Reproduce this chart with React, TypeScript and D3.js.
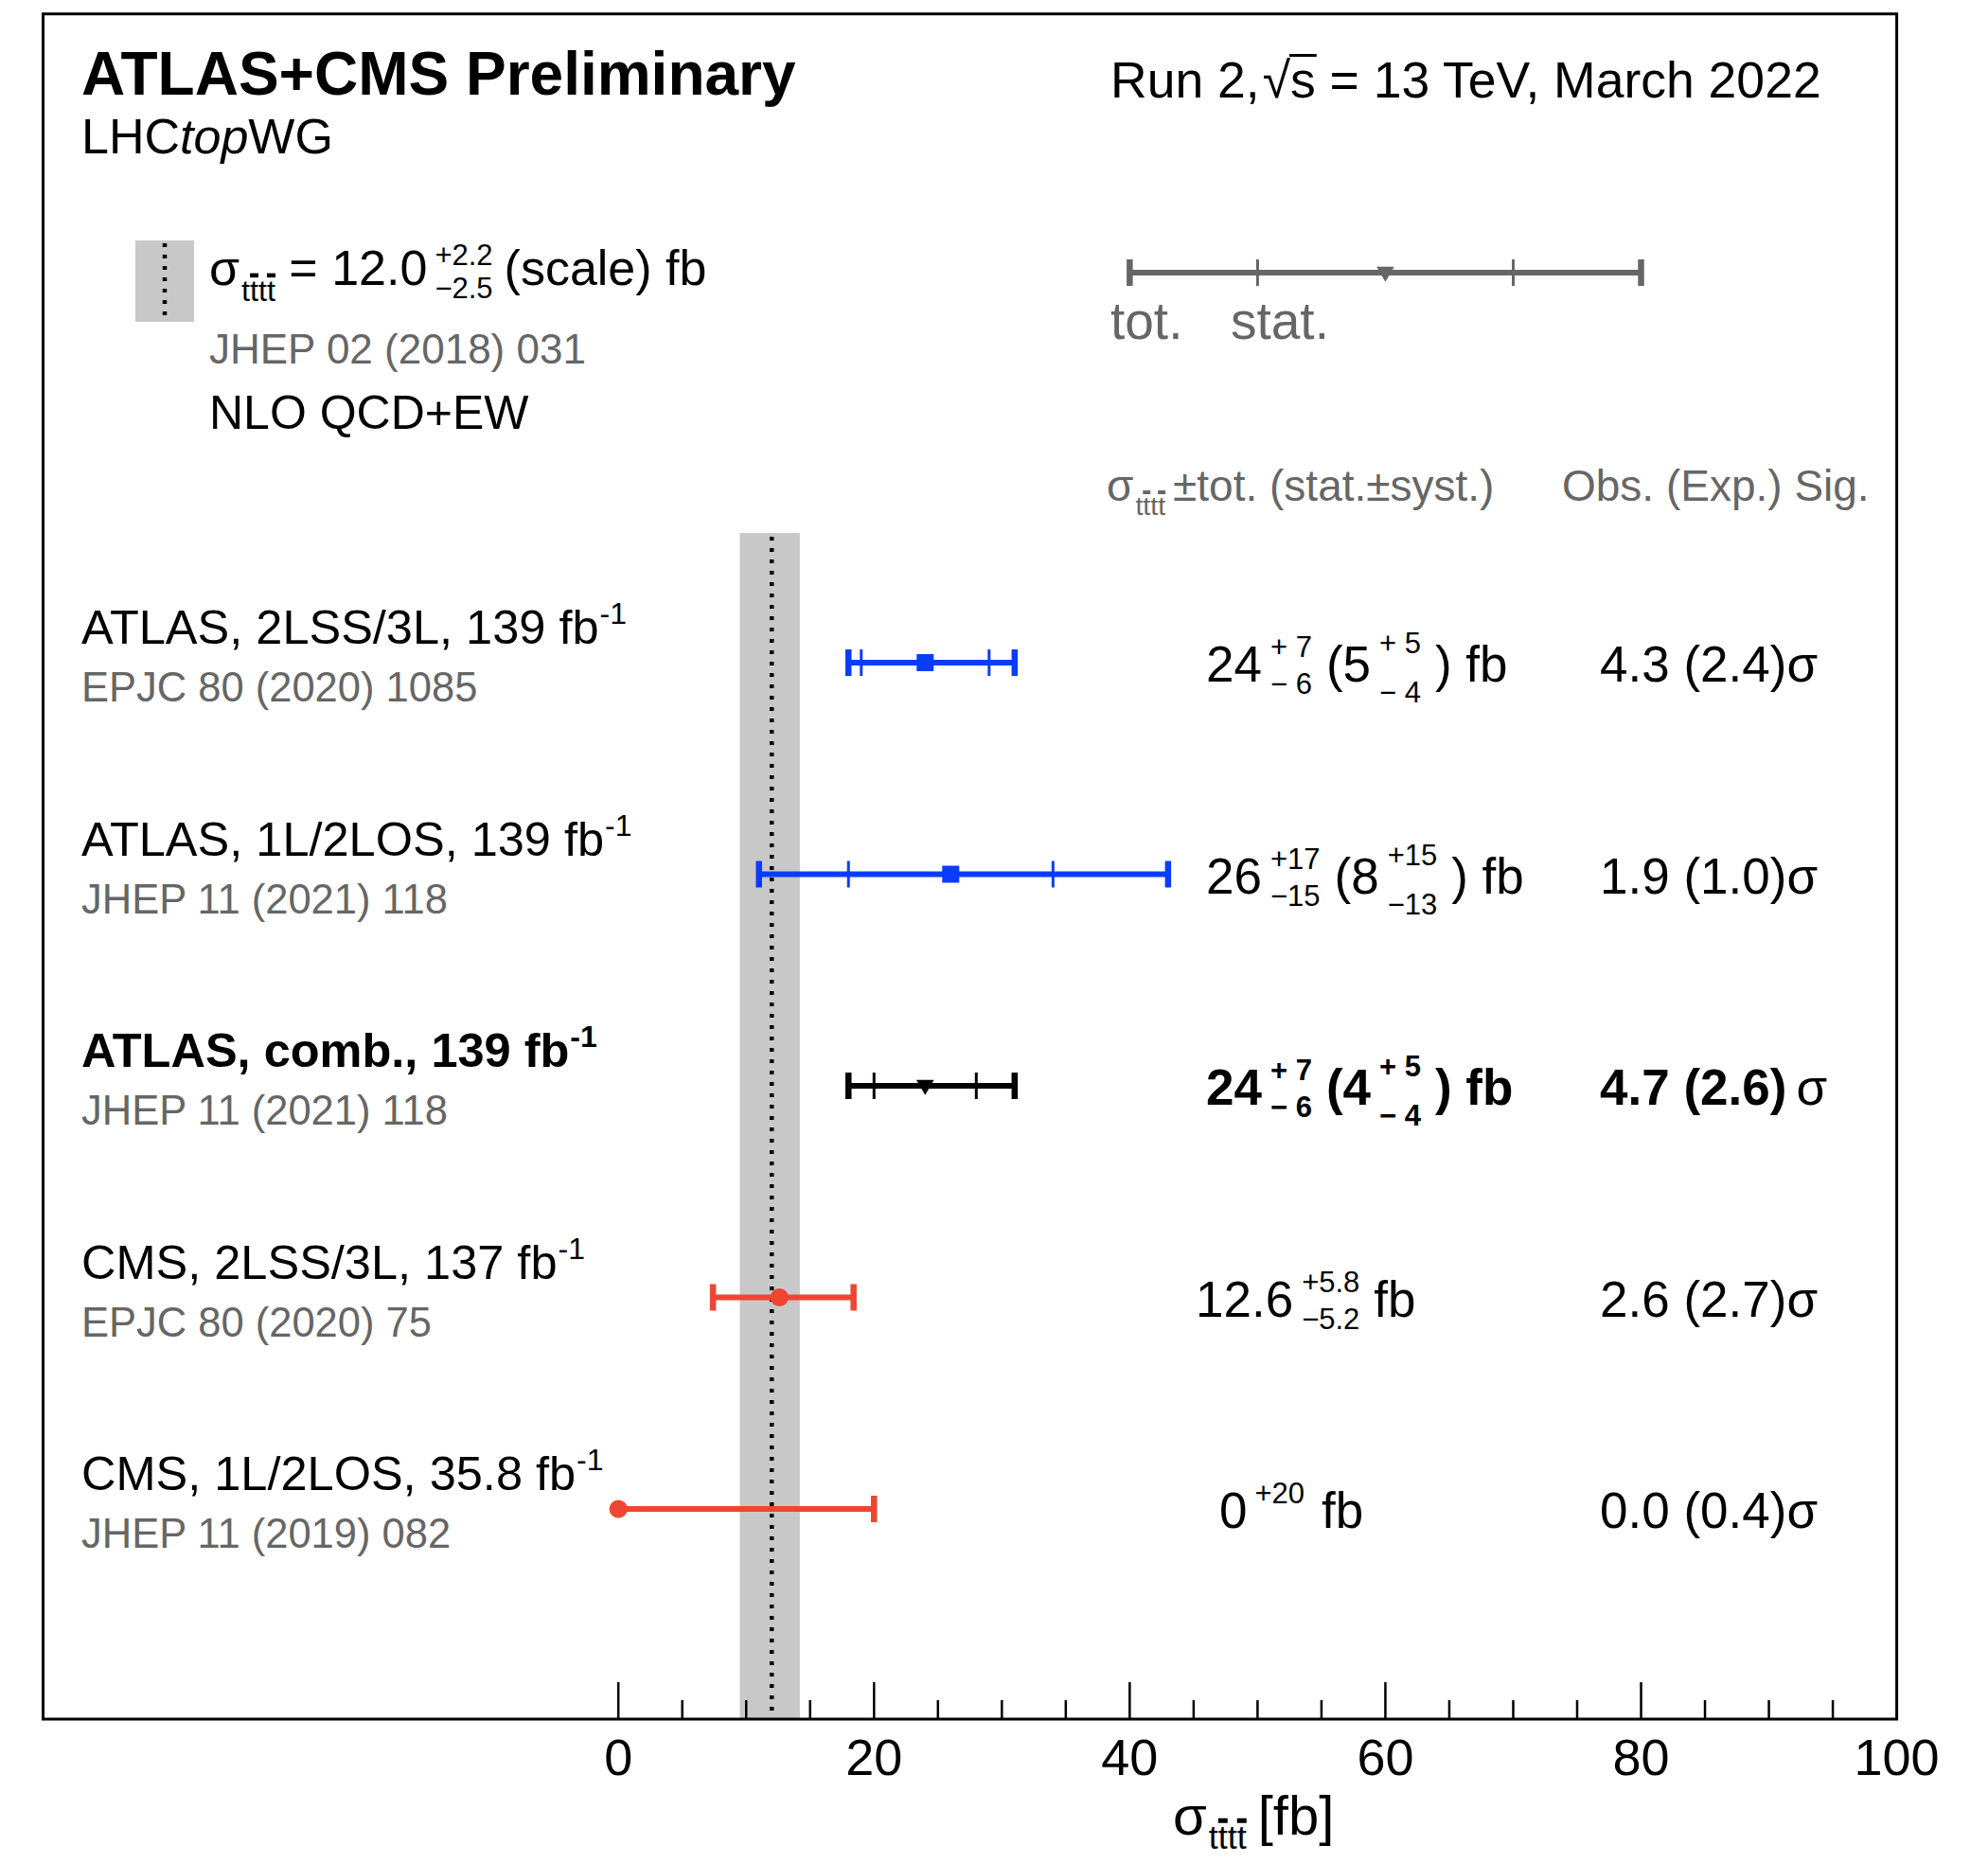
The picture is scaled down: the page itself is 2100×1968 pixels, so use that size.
import React from "react";
import * as d3 from "d3";

const FONT = '"Liberation Sans", Arial, Helvetica, sans-serif';
const BLUE = "#0a3cff";
const RED = "#ee4631";
const BLACK = "#000000";
const GREY = "#666666";
const BAND = "#c8c8c8";
const SP = "\u00A0";

// measurements
const rowNames = [
  "ATLAS, 2LSS/3L, 139 fb",
  "ATLAS, 1L/2LOS, 139 fb",
  "ATLAS, comb., 139 fb",
  "CMS, 2LSS/3L, 137 fb",
  "CMS, 1L/2LOS, 35.8 fb",
];
const rowRefs = [
  "EPJC 80 (2020) 1085",
  "JHEP 11 (2021) 118",
  "JHEP 11 (2021) 118",
  "EPJC 80 (2020) 75",
  "JHEP 11 (2019) 082",
];
const rowBold = [false, false, true, false, false];
const rowColors = [BLUE, BLUE, BLACK, RED, RED];
const rowMarkers = ["square", "square", "triangle", "circle", "circle"];
const central = [24, 26, 24, 12.6, 0];
const totUp = [7, 17, 7, 5.8, 20];
const totDn = [6, 15, 6, 5.2, 0];
const statErr = [5, 8, 4, null, null];
const systUp = [5, 15, 5, null, null];
const systDn = [4, 13, 4, null, null];
const obsSig = [4.3, 1.9, 4.7, 2.6, 0.0];
const expSig = [2.4, 1.0, 2.6, 2.7, 0.4];

// theory prediction
const theoryCentral = 12.0;
const theoryUp = 2.2;
const theoryDn = 2.5;

// legend sample bar (drawn on the same axis)
const legendCentral = 60;
const legendTot = 20;
const legendStat = 10;

const axisLabels = [0, 20, 40, 60, 80, 100];

// layout
const W = 2100;
const H = 1968;
const FRAME = { left: 45.5, top: 14.7, right: 2003.6, bottom: 1816 };
const valueX = [1274, 1274, 1274, 1263, 1288];
const SIG_X = 1690;

const ctx = document.createElement("canvas").getContext("2d");
function tw(s: string, size: number, bold = false) {
  if (!ctx) return s.length * size * 0.5;
  ctx.font = `${bold ? "bold " : ""}${size}px ${FONT}`;
  return ctx.measureText(s).width;
}

type Part = {
  t?: string;
  sup?: string;
  sub?: string;
  supDy?: number;
  subDy?: number;
  gap?: number;
  after?: number;
};

function rich(
  parts: Part[],
  x0: number,
  y0: number,
  size: number,
  subSize: number,
  bold: boolean,
  fill: string,
  key: string,
) {
  let cx = x0;
  const els: any[] = [];
  const fw = bold ? "bold" : "normal";
  parts.forEach((p, i) => {
    if (p.t !== undefined) {
      els.push(
        <text key={`${key}-${i}`} x={cx} y={y0} fontSize={size} fontWeight={fw} fill={fill}>
          {p.t}
        </text>,
      );
      cx += tw(p.t, size, bold);
    } else {
      cx += p.gap ?? 6;
      let w = 0;
      if (p.sup) {
        els.push(
          <text key={`${key}-${i}-u`} x={cx} y={y0 + (p.supDy ?? -24)} fontSize={subSize} fontWeight={fw} fill={fill}>
            {p.sup}
          </text>,
        );
        w = Math.max(w, tw(p.sup, subSize, bold));
      }
      if (p.sub) {
        els.push(
          <text key={`${key}-${i}-d`} x={cx} y={y0 + (p.subDy ?? 14)} fontSize={subSize} fontWeight={fw} fill={fill}>
            {p.sub}
          </text>,
        );
        w = Math.max(w, tw(p.sub, subSize, bold));
      }
      cx += w + (p.after ?? 10);
    }
  });
  return { els, end: cx };
}

// sigma with "tttt" subscript, bars over 2nd and 4th t
function sigma(x0: number, y0: number, size: number, fill: string, key: string, subDrop = 0.32) {
  const sw = tw("σ", size);
  const subSize = size * 0.62;
  const sx = x0 + sw + 2;
  const sy = y0 + size * subDrop;
  const t = tw("t", subSize);
  const els = [
    <text key={`${key}-s`} x={x0} y={y0} fontSize={size} fill={fill}>σ</text>,
    <text key={`${key}-t`} x={sx} y={sy} fontSize={subSize} fill={fill}>tttt</text>,
    <rect key={`${key}-b1`} x={sx + t} y={sy - subSize * 0.9} width={t} height={subSize * 0.14} fill={fill} />,
    <rect key={`${key}-b2`} x={sx + 3 * t} y={sy - subSize * 0.9} width={t} height={subSize * 0.14} fill={fill} />,
  ];
  return { els, end: sx + 4 * t };
}

function errStr(sign: string, v: number) {
  const s = String(v);
  return sign + (s.length === 1 ? SP : "") + s;
}

function ErrorBar({ c, lo, hi, sLo, sHi, yc, color, marker, xs }: any) {
  const cap = 14;
  const sym =
    marker === "square"
      ? d3.symbol(d3.symbolSquare, 324)()
      : marker === "circle"
        ? d3.symbol(d3.symbolCircle, 290)()
        : d3.symbol(d3.symbolTriangle, 150)();
  return (
    <g>
      <line x1={xs(c - lo)} x2={xs(c + hi)} y1={yc} y2={yc} stroke={color} strokeWidth={6} />
      {lo > 0 && <line x1={xs(c - lo)} x2={xs(c - lo)} y1={yc - cap} y2={yc + cap} stroke={color} strokeWidth={6.5} />}
      <line x1={xs(c + hi)} x2={xs(c + hi)} y1={yc - cap} y2={yc + cap} stroke={color} strokeWidth={6.5} />
      {sLo != null && (
        <>
          <line x1={xs(c - sLo)} x2={xs(c - sLo)} y1={yc - cap} y2={yc + cap} stroke={color} strokeWidth={3} />
          <line x1={xs(c + sHi)} x2={xs(c + sHi)} y1={yc - cap} y2={yc + cap} stroke={color} strokeWidth={3} />
        </>
      )}
      <path
        d={sym as string}
        fill={color}
        transform={`translate(${xs(c)},${marker === "triangle" ? yc - 1 : yc})${marker === "triangle" ? " rotate(180)" : ""}`}
      />
    </g>
  );
}

export default function App() {
  const xs = d3.scaleLinear().domain([-45, 100]).range([FRAME.left, FRAME.right]);
  const ys = d3.scalePoint<string>().domain(rowNames).range([700, 1594]);
  const minorTicks = d3.range(0, 100, 5);
  const bandTop = 563;

  // top-right energy label with sqrt(s)
  const runSize = 53.5;
  const runA = "Run 2,";
  const runAx = 1173;
  const sqrtX = runAx + tw(runA, runSize) + 3;
  const sX = sqrtX + tw("√", runSize);
  const afterS = sX + tw("s", runSize);

  // theory legend text
  const thSig = sigma(221, 301, 52, BLACK, "ths");
  const thRest = rich(
    [
      { t: `${SP}=${SP}${theoryCentral.toFixed(1)}` },
      { sup: `+${theoryUp}`, sub: `−${theoryDn}`, supDy: -21, subDy: 14, gap: 8, after: 12 },
      { t: "(scale) fb" },
    ],
    thSig.end,
    301,
    52,
    31,
    false,
    BLACK,
    "thr",
  );

  const hdSig = sigma(1169, 529, 46, GREY, "hds");
  const axSig = sigma(1239, 1938, 58, BLACK, "axs", 0.26);

  return (
    <svg
      width={W}
      height={H}
      viewBox={`0 0 ${W} ${H}`}
      style={{ position: "absolute", left: 0, top: 0, background: "#fff", fontFamily: FONT }}
    >
      <rect x={0} y={0} width={W} height={H} fill="#fff" />

      {/* theory band */}
      <rect
        x={xs(theoryCentral - theoryDn)}
        y={bandTop}
        width={xs(theoryCentral + theoryUp) - xs(theoryCentral - theoryDn)}
        height={FRAME.bottom - bandTop}
        fill={BAND}
      />
      <line
        x1={xs(theoryCentral)}
        x2={xs(theoryCentral)}
        y1={bandTop + 4}
        y2={FRAME.bottom - 2}
        stroke="#000"
        strokeWidth={4.5}
        strokeDasharray="4 8"
      />

      {/* frame */}
      <rect
        x={FRAME.left}
        y={FRAME.top}
        width={FRAME.right - FRAME.left}
        height={FRAME.bottom - FRAME.top}
        fill="none"
        stroke="#000"
        strokeWidth={3}
      />

      {/* axis ticks */}
      {minorTicks.map((v) => (
        <line
          key={`t${v}`}
          x1={xs(v)}
          x2={xs(v)}
          y1={FRAME.bottom}
          y2={FRAME.bottom - (v % 20 === 0 ? 39 : 20)}
          stroke="#000"
          strokeWidth={2.5}
        />
      ))}
      {axisLabels.map((v) => (
        <text key={`l${v}`} x={xs(v)} y={1875} fontSize={54} textAnchor="middle" fill="#000">
          {v}
        </text>
      ))}
      {axSig.els}
      <text x={axSig.end + 12} y={1938} fontSize={58} fill="#000">
        [fb]
      </text>

      {/* title block */}
      <text x={86} y={100} fontSize={64} fontWeight="bold" fill="#000">
        ATLAS+CMS Preliminary
      </text>
      <text x={86} y={162} fontSize={52} fill="#000">
        LHC<tspan fontStyle="italic">top</tspan>WG
      </text>
      <text x={runAx} y={103} fontSize={runSize} fill="#000">
        {runA}
      </text>
      <text x={sqrtX} y={103} fontSize={runSize} fill="#000">
        √
      </text>
      <text x={sX} y={103} fontSize={runSize} fill="#000">
        s
      </text>
      <rect x={sX - 1} y={103 - runSize * 0.86} width={afterS - sX + 2} height={3} fill="#000" />
      <text x={afterS} y={103} fontSize={runSize} fill="#000">
        {`${SP}=${SP}13 TeV, March 2022`}
      </text>

      {/* theory legend */}
      <rect x={143} y={254} width={62} height={86} fill={BAND} />
      <line x1={174} x2={174} y1={257} y2={338} stroke="#000" strokeWidth={4.5} strokeDasharray="4 8" />
      {thSig.els}
      {thRest.els}
      <text x={221} y={384} fontSize={44} fill={GREY}>
        JHEP 02 (2018) 031
      </text>
      <text x={221} y={453} fontSize={50} fill="#000">
        NLO QCD+EW
      </text>

      {/* tot./stat. legend */}
      <ErrorBar
        c={legendCentral}
        lo={legendTot}
        hi={legendTot}
        sLo={legendStat}
        sHi={legendStat}
        yc={288}
        color={GREY}
        marker="triangle"
        xs={xs}
      />
      <text x={1173} y={358} fontSize={55} fill={GREY}>
        tot.
      </text>
      <text x={1300} y={358} fontSize={55} fill={GREY}>
        stat.
      </text>

      {/* column headers */}
      {hdSig.els}
      <text x={hdSig.end + 8} y={529} fontSize={46} fill={GREY}>
        {`±tot.${SP}(stat.±syst.)`}
      </text>
      <text x={1650} y={529} fontSize={46} fill={GREY}>
        Obs. (Exp.) Sig.
      </text>

      {/* measurements */}
      {rowNames.map((name, i) => {
        const yc = ys(name) as number;
        const bold = rowBold[i];
        const nameW = tw(name, 50.5, bold);
        const parts: Part[] = [{ t: String(central[i]) }];
        if (totDn[i] > 0) {
          parts.push({ sup: errStr("+", totUp[i]), sub: errStr("−", totDn[i]), supDy: -26, subDy: 13, gap: 9, after: 15 });
        } else {
          parts.push({ sup: errStr("+", totUp[i]), supDy: -26, gap: 8, after: 18 });
        }
        if (statErr[i] != null) {
          parts.push({ t: `(${statErr[i]}` });
          parts.push({
            sup: errStr("+", systUp[i] as number),
            sub: errStr("−", systDn[i] as number),
            supDy: -30,
            subDy: 22,
            gap: 9,
            after: 15,
          });
          parts.push({ t: `)${SP}fb` });
        } else {
          parts.push({ t: "fb" });
        }
        const val = rich(parts, valueX[i], yc + 20, 53, 31, bold, "#000", `v${i}`);
        const sigTxt = `${d3.format(".1f")(obsSig[i])} (${d3.format(".1f")(expSig[i])})`;
        const sigW = tw(sigTxt, 53, bold);
        return (
          <g key={name}>
            <text x={86} y={yc - 20} fontSize={50.5} fontWeight={bold ? "bold" : "normal"} fill="#000">
              {name}
            </text>
            <text x={86 + nameW + 1} y={yc - 41} fontSize={32} fontWeight={bold ? "bold" : "normal"} fill="#000">
              -1
            </text>
            <text x={86} y={yc + 41} fontSize={43.5} fill={GREY}>
              {rowRefs[i]}
            </text>
            <ErrorBar
              c={central[i]}
              lo={totDn[i]}
              hi={totUp[i]}
              sLo={statErr[i]}
              sHi={statErr[i]}
              yc={yc}
              color={rowColors[i]}
              marker={rowMarkers[i]}
              xs={xs}
            />
            {val.els}
            <text x={SIG_X} y={yc + 20} fontSize={53} fontWeight={bold ? "bold" : "normal"} fill="#000">
              {sigTxt}
            </text>
            <text x={SIG_X + sigW + (bold ? 10 : 0)} y={yc + 20} fontSize={53} fill="#000">
              σ
            </text>
          </g>
        );
      })}
    </svg>
  );
}
